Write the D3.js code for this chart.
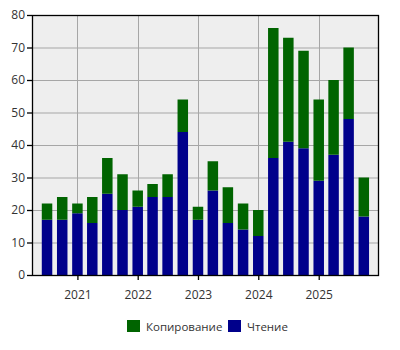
<!DOCTYPE html>
<html>
<head>
<meta charset="utf-8">
<script src="https://cdn.jsdelivr.net/npm/d3@7"></script>
<style>
  body { margin: 0; background: #fff; }
  text { font-family: "Open Sans", "Noto Sans", sans-serif; }
</style>
</head>
<body>
<div id="graph"></div>
<script>
// quarter start dates
var quarters = [
    "2020-07-01", "2020-10-01",
    "2021-01-01", "2021-04-01", "2021-07-01", "2021-10-01",
    "2022-01-01", "2022-04-01", "2022-07-01", "2022-10-01",
    "2023-01-01", "2023-04-01", "2023-07-01", "2023-10-01",
    "2024-01-01", "2024-04-01", "2024-07-01", "2024-10-01",
    "2025-01-01", "2025-04-01", "2025-07-01", "2025-10-01"
];
var reading = [17, 17, 19, 16, 25, 20, 21, 24, 24, 44, 17, 26, 16, 14, 12, 36, 41, 39, 29, 37, 48, 18];
var copying = [5, 7, 3, 8, 11, 11, 5, 4, 7, 10, 4, 9, 11, 8, 8, 40, 32, 30, 25, 23, 22, 12];
var yTicks = [0, 10, 20, 30, 40, 50, 60, 70, 80];
var seriesNames = ["Копирование", "Чтение"];
var seriesColors = ["#006400", "#00008b"];

var parseDate = d3.timeParse("%Y-%m-%d");
var margin = {top: 15, right: 21, bottom: 75, left: 32};
var width = 400 - margin.left - margin.right;
var height = 350 - margin.top - margin.bottom;

var data = quarters.map(function(q, i) {
    return {date: parseDate(q), read: reading[i], copy: copying[i]};
});

var x = d3.scaleTime()
    .domain([parseDate("2020-04-01"), parseDate("2026-01-01")])
    .range([0, width]);
var y = d3.scaleLinear().domain([0, 80]).range([height, 0]);
var barW = 10.5;

var svg = d3.select("#graph").append("svg")
    .attr("width", 400)
    .attr("height", 350)
    .append("g")
    .attr("transform", "translate(" + margin.left + "," + margin.top + ")");

svg.append("rect")
    .attr("width", width)
    .attr("height", height)
    .attr("fill", "#eeeeee");

var years = d3.timeYear.range(parseDate("2021-01-01"), parseDate("2026-01-01"));

// grid
svg.append("g").selectAll("line.h").data(yTicks.slice(1, -1))
    .enter().append("line")
    .attr("x1", 0).attr("x2", width)
    .attr("y1", function(d) { return y(d) + 0.5; })
    .attr("y2", function(d) { return y(d) + 0.5; })
    .attr("stroke", "#a6a6a6");
svg.append("g").selectAll("line.v").data(years)
    .enter().append("line")
    .attr("y1", 0).attr("y2", height)
    .attr("x1", function(d) { return Math.round(x(d)) + 0.5; })
    .attr("x2", function(d) { return Math.round(x(d)) + 0.5; })
    .attr("stroke", "#a6a6a6");

// bars
var bars = svg.append("g").selectAll("g").data(data).enter().append("g");
bars.append("rect")
    .attr("x", function(d) { return x(d.date) - barW / 2; })
    .attr("width", barW)
    .attr("y", function(d) { return y(d.read); })
    .attr("height", function(d) { return height - y(d.read); })
    .attr("fill", seriesColors[1]);
bars.append("rect")
    .attr("x", function(d) { return x(d.date) - barW / 2; })
    .attr("width", barW)
    .attr("y", function(d) { return y(d.read + d.copy); })
    .attr("height", function(d) { return y(d.read) - y(d.read + d.copy); })
    .attr("fill", seriesColors[0]);

// frame
svg.append("rect")
    .attr("x", 0.5).attr("y", 0.5)
    .attr("width", width - 1).attr("height", height)
    .attr("fill", "none")
    .attr("stroke", "#000")
    .attr("stroke-width", 1.3);

// axes
var yAxis = svg.append("g")
    .call(d3.axisLeft(y).tickValues(yTicks).tickSize(5).tickPadding(2));
var xAxis = svg.append("g")
    .attr("transform", "translate(0," + height + ")")
    .call(d3.axisBottom(x).tickValues(years).tickSize(5).tickPadding(10)
        .tickFormat(d3.timeFormat("%Y")));
[yAxis, xAxis].forEach(function(ax) {
    ax.select(".domain").remove();
    ax.selectAll("text").attr("fill", "#333").style("font-size", "12px")
        .style("font-family", "'Open Sans', 'Noto Sans', sans-serif");
    ax.selectAll("line").attr("stroke", "#000").attr("stroke-width", 1.3);
});

// legend
var legend = d3.select("svg").append("g").attr("transform", "translate(127,320)");
var legX = [0, 101];
seriesNames.forEach(function(name, i) {
    var g = legend.append("g").attr("transform", "translate(" + legX[i] + ",0)");
    g.append("rect").attr("width", 13).attr("height", 12).attr("fill", seriesColors[i]);
    g.append("text").attr("x", 19).attr("y", 10.5)
        .attr("fill", "#333").style("font-size", "11.5px")
        .text(name);
});
</script>
</body>
</html>
